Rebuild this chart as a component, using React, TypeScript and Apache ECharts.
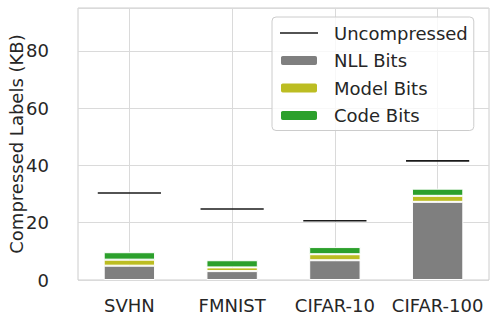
import React, { useEffect, useRef } from "react";
import * as echarts from "echarts";

const categories = ["SVHN", "FMNIST", "CIFAR-10", "CIFAR-100"];
const nllBits = [5.0, 3.1, 6.9, 27.3];
const modelBits = [2.1, 1.3, 2.1, 2.1];
const codeBits = [2.6, 2.5, 2.5, 2.5];
const uncompressed = [30.4, 24.8, 20.7, 41.6];
const yTicks = { min: 0, max: 95, interval: 20 };

const FONT = "DejaVu Sans";
const TEXT = "#262626";
const GRID = "#dadada";

export default function App() {
  const ref = useRef<HTMLDivElement>(null);
  useEffect(() => {
    if (!ref.current) return;
    const chart = echarts.init(ref.current, null, { renderer: "svg" });
    const barCommon = {
      type: "bar" as const,
      stack: "total",
      barWidth: "50%",
      z: 2,
    };
    chart.setOption({
      animation: false,
      textStyle: { fontFamily: FONT, color: TEXT },
      grid: {
        left: 78,
        top: 8,
        right: 9,
        bottom: 48,
        containLabel: false,
        outerBoundsMode: "none",
        show: true,
        borderColor: "#cccccc",
        borderWidth: 1,
        backgroundColor: "transparent",
      },
      legend: {
        orient: "vertical",
        left: 272,
        top: 17,
        itemWidth: 38,
        itemHeight: 11,
        itemGap: 9.5,
        padding: [7, 6, 6, 7],
        backgroundColor: "rgba(255,255,255,0.8)",
        borderColor: "#cccccc",
        borderWidth: 1,
        borderRadius: 4,
        textStyle: {
          fontFamily: FONT,
          fontSize: 18,
          color: TEXT,
          padding: [0, 0, 0, 11],
        },
        data: [
          {
            name: "Uncompressed",
            icon: "path://M0,0 M38,11 M0,4.75 L38,4.75 L38,6.25 L0,6.25 Z",
            itemStyle: { color: "#1a1a1a", borderWidth: 0 },
          },
          { name: "NLL Bits" },
          { name: "Model Bits" },
          { name: "Code Bits" },
        ],
      },
      xAxis: {
        type: "category",
        data: categories,
        axisLine: { show: false },
        axisTick: { show: false },
        splitLine: { show: false },
        axisLabel: {
          fontFamily: FONT,
          fontSize: 18,
          color: TEXT,
          margin: 16,
          interval: 0,
        },
      },
      yAxis: {
        type: "value",
        min: yTicks.min,
        max: yTicks.max,
        interval: yTicks.interval,
        name: "Compressed Labels (KB)",
        nameLocation: "middle",
        nameGap: 53,
        nameMoveOverlap: false,
        nameTextStyle: { fontFamily: FONT, fontSize: 18, color: TEXT },
        axisLine: { show: false },
        axisTick: { show: false },
        splitLine: { show: true, lineStyle: { color: GRID, width: 1 } },
        axisLabel: {
          fontFamily: FONT,
          fontSize: 18,
          color: TEXT,
          margin: 29,
          showMaxLabel: false,
        },
      },
      series: [
        {
          ...barCommon,
          name: "vgrid",
          z: 1,
          silent: true,
          data: categories.map(() => "-"),
          markLine: {
            z: 1,
            silent: true,
            symbol: "none",
            label: { show: false },
            lineStyle: { color: GRID, width: 1, type: "solid" },
            data: categories.map((c) => ({ xAxis: c })),
          },
        },
        {
          ...barCommon,
          name: "NLL Bits",
          data: nllBits,
          itemStyle: { color: "#7f7f7f", borderColor: "#ffffff", borderWidth: 1 },
        },
        {
          ...barCommon,
          name: "Model Bits",
          data: modelBits,
          itemStyle: { color: "#bcbd22", borderColor: "#ffffff", borderWidth: 1 },
        },
        {
          ...barCommon,
          name: "Code Bits",
          data: codeBits,
          itemStyle: { color: "#2ca02c", borderColor: "#ffffff", borderWidth: 1 },
        },
        {
          name: "Uncompressed",
          type: "custom",
          z: 5,
          itemStyle: { color: "#1a1a1a" },
          data: categories.map((_, i) => [i, uncompressed[i]]),
          encode: { x: 0, y: 1 },
          renderItem: (params: any, api: any) => {
            const p = api.coord([api.value(0), api.value(1)]);
            const w = api.size([1, 0])[0] * 0.615;
            return {
              type: "line",
              shape: { x1: p[0] - w / 2, y1: p[1], x2: p[0] + w / 2, y2: p[1] },
              style: { stroke: "#1a1a1a", lineWidth: 1.6 },
            };
          },
        },
      ],
    });
    return () => chart.dispose();
  }, []);
  return (
    <div
      ref={ref}
      style={{ position: "fixed", left: 0, top: 0, width: 498, height: 328, background: "#fff" }}
    />
  );
}
